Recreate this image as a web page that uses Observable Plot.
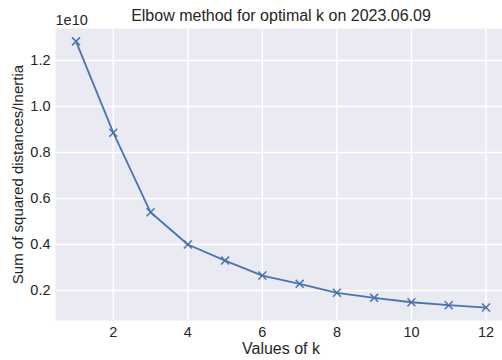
<!DOCTYPE html>
<html>
<head>
<meta charset="utf-8">
<script src="https://cdn.jsdelivr.net/npm/d3@7"></script>
<script src="https://cdn.jsdelivr.net/npm/@observablehq/plot@0.6"></script>
<style>
  html, body { margin: 0; padding: 0; background: #fff; }
  #chart { width: 502px; height: 360px; overflow: hidden; }
  #chart svg { overflow: hidden; }
</style>
</head>
<body>
<div id="chart"></div>
<script>
// Number of clusters k
const kValues = [1, 2, 3, 4, 5, 6, 7, 8, 9, 10, 11, 12];
// Inertia (sum of squared distances), in units of 1e10
const inertia = [1.283, 0.886, 0.540, 0.400, 0.330, 0.265, 0.229, 0.190, 0.168, 0.149, 0.136, 0.126];
const xTicks = [2, 4, 6, 8, 10, 12];
const yTicks = [0.2, 0.4, 0.6, 0.8, 1.0, 1.2];
const titleText = "Elbow method for optimal k on 2023.06.09";
const xLabel = "Values of k";
const yLabel = "Sum of squared distances/Inertia";
const offsetText = "1e10";

const data = kValues.map((k, i) => ({k, v: inertia[i]}));
const font = "'Liberation Sans', Arial, Helvetica, sans-serif";
const textColor = "#262626";
const lineColor = "#4C72B0";

const chart = Plot.plot({
  width: 502,
  height: 360,
  marginLeft: 55,
  marginRight: -4,
  marginTop: 28,
  marginBottom: 40,
  style: {fontFamily: font, color: textColor, background: "#fff"},
  x: {domain: [0.45, 12.55], ticks: xTicks},
  y: {domain: [0.0696, 1.339], ticks: yTicks},
  marks: [
    Plot.frame({fill: "#EAEAF2", stroke: null}),
    Plot.gridX(xTicks, {stroke: "#fff", strokeOpacity: 1, strokeWidth: 1.4}),
    Plot.gridY(yTicks, {stroke: "#fff", strokeOpacity: 1, strokeWidth: 1.4}),
    Plot.axisX(xTicks, {tickSize: 0, tickPadding: 6.5, fontSize: 14.5, label: null, fill: textColor}),
    Plot.axisY(yTicks, {tickSize: 0, tickPadding: 5, fontSize: 14.5, label: null, fill: textColor, tickFormat: d => d.toFixed(1)}),
    Plot.line(data, {x: "k", y: "v", stroke: lineColor, strokeWidth: 1.8}),
    Plot.dot(data, {x: "k", y: "v", symbol: "times", r: 3.7, stroke: lineColor, strokeWidth: 1.5}),
    Plot.text([titleText], {frameAnchor: "top", dy: -8, lineAnchor: "bottom", fontSize: 16, fill: textColor}),
    Plot.text([offsetText], {frameAnchor: "top-left", dy: -4, textAnchor: "start", lineAnchor: "bottom", fontSize: 14.5, fill: textColor}),
    Plot.text([xLabel], {frameAnchor: "bottom", dy: 33.5, lineAnchor: "bottom", fontSize: 16, fill: textColor}),
    Plot.text([yLabel], {frameAnchor: "left", dx: -33, rotate: -90, textAnchor: "middle", lineAnchor: "bottom", fontSize: 15, fill: textColor})
  ]
});
document.getElementById("chart").append(chart);
</script>
</body>
</html>
